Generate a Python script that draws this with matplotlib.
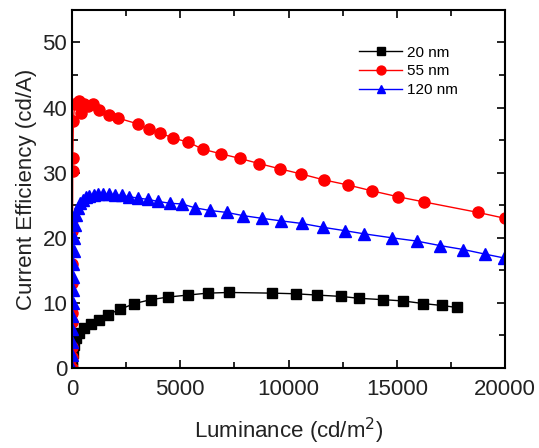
import matplotlib
matplotlib.use("Agg")
from matplotlib import pyplot as plt
from matplotlib.ticker import MultipleLocator

# luminance (cd/m2) and current efficiency (cd/A)
lum_20 = [0, 20, 50, 100, 185, 337, 568, 878, 1233, 1649, 2217, 2878, 3649, 4448,
          5340, 6275, 7247, 9233, 10323, 11316, 12402, 13275, 14347, 15294, 16213,
          17081, 17765]
eff_20 = [0, 1.2, 2.3, 3.5, 4.6, 5.3, 6.1, 6.7, 7.4, 8.2, 9.0, 9.9, 10.5, 10.9,
          11.2, 11.5, 11.6, 11.5, 11.4, 11.2, 11.0, 10.7, 10.5, 10.3, 9.9,
          9.6, 9.3]

lum_55 = [0, 3, 6, 9, 12, 15, 18, 22, 26, 30, 35, 60, 120, 217, 337, 416, 568,
          760, 955, 1261, 1723, 2110, 3034, 3542, 4080, 4680, 5373, 6036, 6887,
          7741, 8642, 9594, 10587, 11626, 12762, 13866, 15063, 16273, 18744, 19986]
eff_55 = [0, 1.7, 3.2, 7.0, 8.5, 13.0, 16.0, 21.0, 23.0, 30.2, 32.3, 37.9, 40.6,
          40.7, 41.0, 39.1, 40.5, 40.3, 40.5, 39.7, 38.9, 38.4, 37.5, 36.7, 36.1,
          35.3, 34.7, 33.6, 32.9, 32.2, 31.4, 30.6, 29.8, 28.9, 28.1, 27.2, 26.3,
          25.5, 23.9, 23.0]

lum_120 = [0, 5, 10, 15, 20, 25, 30, 40, 50, 70, 100, 150, 200, 280, 380, 500,
           650, 800, 1000, 1200, 1450, 1700, 2000, 2300, 2650, 3050, 3500, 3950,
           4527, 5072, 5691, 6360, 7136, 7912, 8753, 9654, 10619, 11612, 12591,
           13506, 14767, 15913, 17003, 18074, 19067, 19954]
eff_120 = [0, 2, 4, 6, 8, 10, 12, 14, 16, 18, 20, 22, 23.5, 24.5, 25.3, 25.8,
           26.2, 26.4, 26.6, 26.7, 26.7, 26.7, 26.6, 26.5, 26.3, 26.1, 25.9, 25.6,
           25.3, 25.2, 24.6, 24.2, 23.9, 23.4, 23.0, 22.6, 22.2, 21.6, 21.1,
           20.6, 20.0, 19.5, 18.8, 18.2, 17.5, 16.9]

plt.rcParams["font.family"] = ["Liberation Sans", "DejaVu Sans"]

fig = plt.figure(figsize=(5.39, 4.48), dpi=100)
ax = fig.add_axes([0.1336, 0.1786, 0.8034, 0.7992])

ax.plot(lum_20, eff_20, color="black", lw=1, marker="s", ms=6.5, label="20 nm")
ax.plot(lum_55, eff_55, color="red", lw=1, marker="o", ms=8, label="55 nm")
ax.plot(lum_120, eff_120, color="blue", lw=1, marker="^", ms=8, label="120 nm")

ax.set_xlim(0, 20000)
ax.set_ylim(0, 55)
ax.xaxis.set_major_locator(MultipleLocator(5000))
ax.xaxis.set_minor_locator(MultipleLocator(2500))
ax.yaxis.set_major_locator(MultipleLocator(10))
ax.yaxis.set_minor_locator(MultipleLocator(5))
ax.tick_params(which="both", direction="in", top=True, right=True,
               labelsize=16, width=1.2, colors="black", labelcolor="#222222")
ax.tick_params(which="major", length=6)
ax.tick_params(which="minor", length=4)
ax.tick_params(axis="x", pad=8)
for spine in ax.spines.values():
    spine.set_linewidth(1.5)

ax.set_xlabel("Luminance (cd/m$^2$)", fontsize=16, labelpad=11, color="#222222")
ax.set_ylabel("Current Efficiency (cd/A)", fontsize=16, labelpad=4, color="#222222")

ax.legend(loc="upper right", bbox_to_anchor=(0.915, 0.93), frameon=False,
          fontsize=11, handlelength=2.8, handletextpad=0.3, labelspacing=0.3,
          markerscale=0.8, borderpad=0.2)

fig.savefig("out.png", dpi=100)
